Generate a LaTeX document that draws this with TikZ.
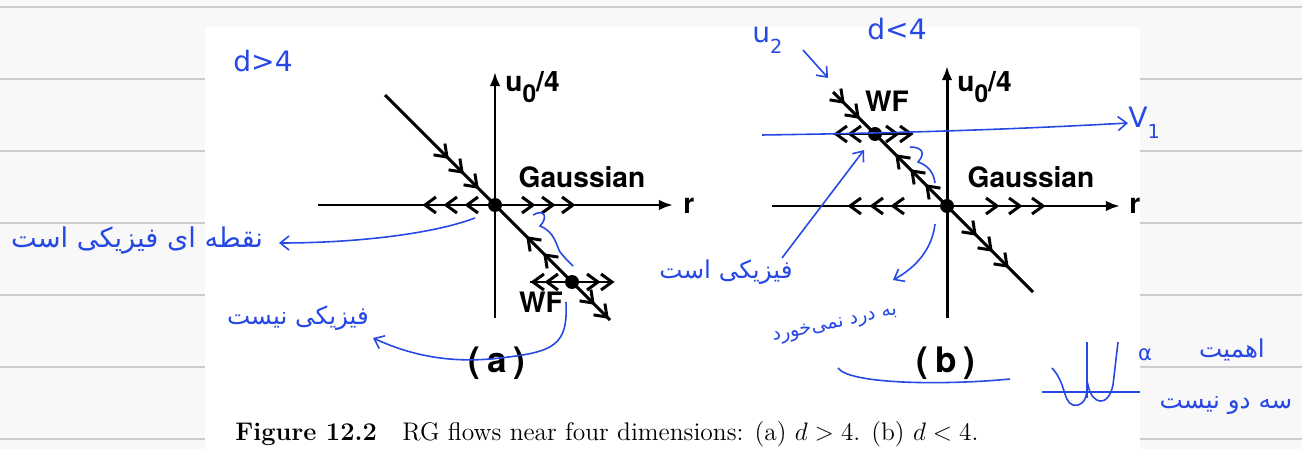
\documentclass[tikz,border=0pt]{standalone}
\usepackage{fontspec}
\usepackage{tikz}
\usetikzlibrary{arrows.meta}
\TeXXeTstate=1
\newfontfamily\figfont{TeX Gyre Heros}
\newfontfamily\farsifont[Script=Arabic]{DejaVu Sans}
\newfontfamily\handfont{DejaVu Sans}
\definecolor{ink}{RGB}{38,72,228}
\definecolor{rulegray}{RGB}{205,205,205}
\definecolor{paper}{RGB}{248,248,248}

\begin{document}
\begin{tikzpicture}[x=0.02cm, y=-0.02cm,
  axis/.style={line width=1.7pt, -{Latex[length=8pt,width=6pt]}},
  flow/.style={line width=1.7pt},
  lbl/.style={font=\figfont\bfseries\fontsize{16}{18}\selectfont, inner sep=0pt},
  big/.style={font=\figfont\bfseries\fontsize{20}{22}\selectfont, inner sep=0pt},
  fp/.style={circle, fill, inner sep=0pt, minimum size=0.28cm},
  note/.style={ink, font=\farsifont\fontsize{14}{16}\selectfont, inner sep=0pt},
  hand/.style={ink, font=\handfont\fontsize{16}{18}\selectfont, inner sep=0pt},
  pen/.style={ink, line width=0.9pt},
  penarrow/.style={pen, -{Straight Barb[length=5pt,width=8pt]}},
  chev/.pic={\draw[line width=1.7pt] (-11,8) -- (0,0) -- (-11,-8);}
]
\useasboundingbox (0,0) rectangle (1302,449);

% notebook page
\fill[paper] (0,0) rectangle (1302,449);
\draw[rulegray, line width=1pt] (0,7) -- (1302,7);
\foreach \y in {79,151,223,295,367,439} {
  \draw[rulegray, line width=1pt] (0,\y) -- (205,\y);
  \draw[rulegray, line width=1pt] (1140,\y) -- (1302,\y);
}
\fill[white] (205,27) rectangle (1140,449);

% Panel (a)
\coordinate (Ga) at (495,205);
\coordinate (WFa) at (572,282);
\draw[axis] (318,205) -- (673,205);
\draw[axis] (495,318) -- (495,72);
\draw[flow] (385,95) -- (610,320);
\draw[flow] (530,282) -- (613,282);
\node[fp] (gauss-a) at (Ga) {};
\node[fp] (wf-a) at (WFa) {};
\foreach \x in {425,446,467} \pic[rotate=180] at (\x,205) {chev};
\foreach \x in {533,553,573} \pic at (\x,205) {chev};
\foreach \d in {48,33,18} \pic[rotate=-45] at (495-\d,205-\d) {chev};
\foreach \d in {33,50} \pic[rotate=135] at (495+\d,205+\d) {chev};
\foreach \d in {98,112} \pic[rotate=-45] at (495+\d,205+\d) {chev};
\foreach \x in {533,547} \pic[rotate=180] at (\x,282) {chev};
\foreach \x in {598,612} \pic at (\x,282) {chev};

\node[lbl, anchor=base west] (u-a) at (505,92) {u\raisebox{-6pt}{\fontsize{14}{14}\selectfont 0}/4};
\node[lbl, anchor=base west] (r-a) at (683,214) {r};
\node[lbl, anchor=base] (gname-a) at (582,188) {Gaussian};
\node[lbl, anchor=base] (wfname-a) at (541,313) {WF};
\node[big, anchor=base] (tag-a) at (497,372) {(\hspace{4pt}a\hspace{4pt})};

% Panel (b)
\coordinate (Gb) at (947,206);
\coordinate (WFb) at (875,134);
\draw[axis] (772,206) -- (1120,206);
\draw[axis] (947,318) -- (947,66);
\draw[flow] (833,92) -- (1033,292);
\draw[flow] (833,134) -- (912,134);
\node[fp] (gauss-b) at (Gb) {};
\node[fp] (wf-b) at (WFb) {};
\foreach \x in {850,872,893} \pic[rotate=180] at (\x,206) {chev};
\foreach \x in {997,1020,1043} \pic at (\x,206) {chev};
\foreach \d in {28,44,60} \pic[rotate=-45] at (947+\d,206+\d) {chev};
\foreach \d in {50,35,20} \pic[rotate=135] at (947-\d,206-\d) {chev};
\foreach \d in {104,89} \pic[rotate=-45] at (947-\d,206-\d) {chev};
\foreach \x in {836,850} \pic[rotate=180] at (\x,134) {chev};
\foreach \x in {897,911} \pic at (\x,134) {chev};

\node[lbl, anchor=base west] (u-b) at (957,92) {u\raisebox{-6pt}{\fontsize{14}{14}\selectfont 0}/4};
\node[lbl, anchor=base west] (r-b) at (1129,214) {r};
\node[lbl, anchor=base] (gname-b) at (1031,188) {Gaussian};
\node[lbl, anchor=base] (wfname-b) at (887,112) {WF};
\node[big, anchor=base] (tag-b) at (946,372) {(\hspace{4pt}b\hspace{4pt})};

% caption
\node[anchor=base west, inner sep=0pt, font=\fontsize{14.5}{17}\selectfont] (cap) at (235,440)
  {\textbf{Figure 12.2}\quad RG flows near four dimensions: (a) $d>4$. (b) $d<4$.};

% handwritten notes
\node[hand, anchor=base] (dgt) at (263,72) {d>4};
\node[hand, anchor=base] (dlt) at (897,40) {d<4};
\node[hand, anchor=base west] (u2) at (752,43) {u\raisebox{-6pt}{\fontsize{11}{11}\selectfont 2}};
\node[hand, anchor=base west] (v1) at (1128,128) {V\raisebox{-6pt}{\fontsize{11}{11}\selectfont 1}};
\node[note, font=\farsifont\fontsize{15.5}{18}\selectfont] (phys-a) at (137,240) {\beginR نقطه ای فیزیکی است\endR};
\node[note] (notphys) at (298,318) {\beginR فیزیکی نیست\endR};
\node[note] (phys-b) at (726,272) {\beginR فیزیکی است\endR};
\node[note, rotate=12, font=\farsifont\fontsize{11}{13}\selectfont] (useless) at (835,325) {\beginR به درد نمی‌خورد\endR};
\node[note] (imp) at (1232,350) {\beginR اهمیت\endR};
\node[note] (imp2) at (1226,405) {\beginR سه دو نیست\endR};
\node[hand, font=\handfont\fontsize{12}{12}\selectfont] (alpha) at (1145,355) {α};

\coordinate (np-tip) at (373,338);
\coordinate (pa-tip) at (279,243);

% blue strokes (a)
\draw[penarrow] (475,218) .. controls (430,235) and (350,243) .. (pa-tip);
\draw[pen] (533,215) .. controls (545,208) and (548,218) .. (540,226)
  .. controls (555,232) and (556,245) .. (560,252) .. controls (565,258) .. (573,266);
\draw[penarrow] (566,302) .. controls (568,345) and (555,352) .. (500,358)
  .. controls (450,364) and (410,355) .. (np-tip);

% blue strokes (b)
\draw[penarrow] (762,135) .. controls (900,133) and (1000,130) .. (v1.west);
\draw[penarrow] (782,258) -- (864,150);
\draw[penarrow] (935,224) .. controls (932,250) and (915,268) .. (893,280);
\draw[pen] (910,147) .. controls (922,147) and (926,153) .. (918,162)
  .. controls (930,166) and (934,175) .. (935,183);
\draw[penarrow] (803,50) -- (828,78);
\draw[pen] (838,368) .. controls (850,385) and (950,385) .. (1010,379);

% double well sketch
\draw[pen] (1042,392) -- (1140,392);
\draw[pen] (1052,368) .. controls (1068,385) and (1062,408) .. (1078,405)
  .. controls (1088,402) and (1086,390) .. (1088,385)
  .. controls (1092,405) and (1108,408) .. (1113,385) -- (1118,342);
\draw[pen] (1087,342) -- (1087,398);

\end{tikzpicture}
\end{document}
